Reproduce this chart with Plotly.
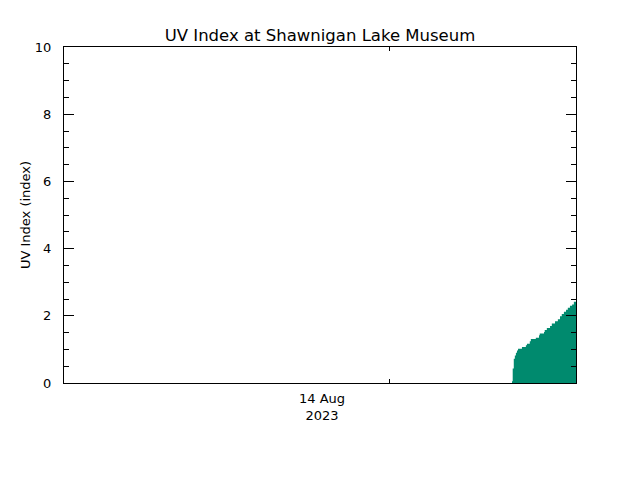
import pandas as pd
import plotly.graph_objects as go

# UV index readings, Shawnigan Lake Museum (morning of 14 Aug 2023)
times = ["05:45", "05:47", "05:50", "05:53", "05:56", "05:59", "06:02",
         "06:13", "06:24", "06:27", "06:35", "06:38", "06:52", "07:01",
         "07:03", "07:15", "07:17", "07:23", "07:32", "07:37", "07:46",
         "07:54", "08:00", "08:05", "08:11", "08:17", "08:22", "08:28",
         "08:34", "08:39", "08:45"]
uv = [0.05, 0.43, 0.72, 0.82, 0.90, 0.97, 1.02,
      1.07, 1.12, 1.17, 1.24, 1.31, 1.35, 1.42,
      1.47, 1.52, 1.58, 1.64, 1.70, 1.77, 1.84,
      1.90, 1.99, 2.05, 2.12, 2.18, 2.24, 2.30,
      2.34, 2.42, 2.42]

day = "2023-08-14"
xstart = "2023-08-13 08:45"
xend = "2023-08-14 08:45"
midnight = "2023-08-14 00:00"
daylabel = "2023-08-13 20:50"

x = pd.to_datetime([day + " " + t for t in times])

fig = go.Figure()
fig.add_trace(go.Scatter(
    x=x, y=uv,
    mode="lines",
    line=dict(shape="hv", color="#008a6e", width=0),
    fill="tozeroy",
    fillcolor="#008a6e",
    hoverinfo="skip",
))

# page body has an 8px margin, so the margins are shifted to compensate
font = "DejaVu Sans"
fig.update_layout(
    width=640, height=480,
    margin=dict(l=56, r=72, t=39, b=105, autoexpand=False),
    paper_bgcolor="white", plot_bgcolor="white",
    showlegend=False,
    font=dict(family=font, size=13, color="black"),
    title=dict(text="UV Index at Shawnigan Lake Museum", x=312 / 640, xanchor="center",
               y=1 - 27 / 480, yanchor="middle", font=dict(size=16.5)),
)
fig.update_xaxes(
    range=[xstart, xend], automargin=False,
    showgrid=False, zeroline=False,
    showline=True, linecolor="black", linewidth=1, mirror="ticks",
    ticks="inside", ticklen=4, tickcolor="black",
    tickvals=[midnight], ticktext=[""],
)
fig.update_yaxes(
    range=[0, 10], automargin=False,
    showgrid=False, zeroline=False,
    showline=True, linecolor="black", linewidth=1, mirror="ticks",
    ticks="inside", ticklen=10, tickcolor="black",
    tickvals=[0, 2, 4, 6, 8, 10], ticklabelstandoff=9,
    tickfont=dict(size=13),
    minor=dict(dtick=0.5, ticks="inside", ticklen=5, tickcolor="black", showgrid=False),
    title=dict(text="UV Index (index)", standoff=1, font=dict(size=13)),
)
fig.add_annotation(
    x=daylabel, y=0, xref="x", yref="y",
    text="14 Aug<br>2023", showarrow=False,
    yanchor="top", yshift=-6, font=dict(size=13),
)

fig.write_html("out.html")
